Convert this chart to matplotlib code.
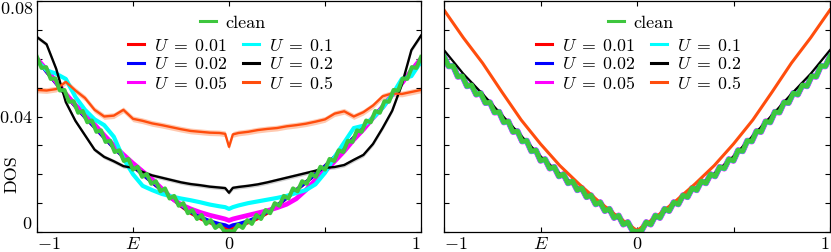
import numpy as np
import matplotlib; matplotlib.use("Agg")
import matplotlib.pyplot as plt
from matplotlib.lines import Line2D

plt.rcParams["font.family"] = "serif"
plt.rcParams["font.serif"] = ["cmr10", "DejaVu Serif"]
plt.rcParams["mathtext.fontset"] = "cm"
plt.rcParams["axes.unicode_minus"] = False

RED = "#ff0000"; BLUE = "#0000ff"; MAG = "#ff00ff"; CYAN = "#00ffff"
BLACK = "#000000"; ORANGE = "#ff4d0d"; GREEN = "#3ec63e"

# ---- data ----
U_LABELS = [r"$U\;=\;0.01$", r"$U\;=\;0.02$", r"$U\;=\;0.05$",
            r"$U\;=\;0.1$", r"$U\;=\;0.2$", r"$U\;=\;0.5$"]

# energy grid for the disordered curves (left panel)
E_L = np.round(np.r_[np.linspace(-1, -0.05, 20), -0.02, 0.0, 0.02, np.linspace(0.05, 1, 20)], 3)

red_L = [0.0598, 0.0555, 0.0515, 0.0475, 0.0435, 0.0398, 0.0363, 0.0327, 0.0292, 0.0260,
         0.0228, 0.0200, 0.0172, 0.0145, 0.0118, 0.0090, 0.0066, 0.0047, 0.0033, 0.0020,
         0.0013, 0.0008, 0.0013,
         0.0020, 0.0033, 0.0047, 0.0066, 0.0090, 0.0118, 0.0145, 0.0172, 0.0200, 0.0228,
         0.0260, 0.0292, 0.0327, 0.0363, 0.0398, 0.0435, 0.0475, 0.0515, 0.0555, 0.0598]
blue_L = [0.0598, 0.0555, 0.0515, 0.0475, 0.0435, 0.0398, 0.0363, 0.0327, 0.0292, 0.0260,
          0.0228, 0.0200, 0.0172, 0.0145, 0.0118, 0.0092, 0.0070, 0.0052, 0.0038, 0.0028,
          0.0024, 0.0018, 0.0024,
          0.0028, 0.0038, 0.0052, 0.0070, 0.0092, 0.0118, 0.0145, 0.0172, 0.0200, 0.0228,
          0.0260, 0.0292, 0.0327, 0.0363, 0.0398, 0.0435, 0.0475, 0.0515, 0.0555, 0.0598]
mag_L = [0.0600, 0.0562, 0.0520, 0.0478, 0.0440, 0.0405, 0.0372, 0.0335, 0.0300, 0.0268,
         0.0238, 0.0210, 0.0182, 0.0150, 0.0118, 0.0095, 0.0080, 0.0068, 0.0058, 0.0050,
         0.0045, 0.0040, 0.0045,
         0.0050, 0.0058, 0.0066, 0.0074, 0.0084, 0.0096, 0.0115, 0.0145, 0.0180, 0.0210,
         0.0245, 0.0280, 0.0320, 0.0355, 0.0395, 0.0432, 0.0475, 0.0515, 0.0560, 0.0600]
cyan_L = [0.0592, 0.0560, 0.0548, 0.0530, 0.0468, 0.0423, 0.0390, 0.0370, 0.0330, 0.0255,
          0.0200, 0.0160, 0.0145, 0.0132, 0.0123, 0.0116, 0.0110, 0.0103, 0.0095, 0.0089,
          0.0086, 0.0080, 0.0086,
          0.0092, 0.0100, 0.0106, 0.0112, 0.0118, 0.0125, 0.0135, 0.0145, 0.0165, 0.0205,
          0.0260, 0.0310, 0.0360, 0.0368, 0.0395, 0.0430, 0.0475, 0.0530, 0.0540, 0.0590]
black_L = [0.0675, 0.0650, 0.0565, 0.0450, 0.0385, 0.0335, 0.0285, 0.0260, 0.0245, 0.0228,
           0.0222, 0.0208, 0.0196, 0.0188, 0.0180, 0.0172, 0.0166, 0.0162, 0.0157, 0.0154,
           0.0152, 0.0136, 0.0153,
           0.0156, 0.0160, 0.0165, 0.0172, 0.0180, 0.0188, 0.0196, 0.0204, 0.0212, 0.0222,
           0.0225, 0.0232, 0.0250, 0.0267, 0.0305, 0.0360, 0.0420, 0.0510, 0.0630, 0.0680]
orange_L = [0.0492, 0.0490, 0.0495, 0.0520, 0.0490, 0.0464, 0.0423, 0.0400, 0.0403, 0.0423,
            0.0392, 0.0385, 0.0376, 0.0370, 0.0363, 0.0356, 0.0350, 0.0347, 0.0344, 0.0343,
            0.0340, 0.0295, 0.0338,
            0.0343, 0.0347, 0.0353, 0.0357, 0.0360, 0.0366, 0.0370, 0.0375, 0.0382, 0.0390,
            0.0410, 0.0418, 0.0400, 0.0415, 0.0438, 0.0470, 0.0480, 0.0478, 0.0485, 0.0492]
black_L_err = 0.0007
orange_L_err = 0.0010

# clean DOS, sampled at its wiggle extrema (85 points from -1 to 1)
E_C = np.linspace(-1, 1, 85)
clean_L = [0.0606, 0.0568, 0.0571, 0.0530, 0.0532, 0.0490, 0.0492, 0.0451, 0.0453, 0.0413,
           0.0419, 0.0380, 0.0386, 0.0347, 0.0352, 0.0312, 0.0316, 0.0277, 0.0283, 0.0246,
           0.0253, 0.0216, 0.0226, 0.0191, 0.0201, 0.0167, 0.0176, 0.0141, 0.0151, 0.0116,
           0.0125, 0.0091, 0.0100, 0.0065, 0.0076, 0.0045, 0.0059, 0.0028, 0.0041, 0.0014,
           0.0025, 0.0002, 0.0003,
           0.0002, 0.0025, 0.0014, 0.0041, 0.0028, 0.0059, 0.0045, 0.0076, 0.0065, 0.0100,
           0.0091, 0.0125, 0.0116, 0.0151, 0.0141, 0.0176, 0.0167, 0.0201, 0.0191, 0.0226,
           0.0216, 0.0253, 0.0246, 0.0283, 0.0277, 0.0316, 0.0312, 0.0352, 0.0347, 0.0386,
           0.0380, 0.0419, 0.0413, 0.0453, 0.0451, 0.0492, 0.0490, 0.0532, 0.0530, 0.0571,
           0.0568, 0.0606]
clean_R = [0.0608, 0.0574, 0.0575, 0.0538, 0.0540, 0.0505, 0.0509, 0.0476, 0.0481, 0.0447,
           0.0449, 0.0414, 0.0416, 0.0380, 0.0383, 0.0347, 0.0349, 0.0314, 0.0316, 0.0280,
           0.0283, 0.0247, 0.0252, 0.0220, 0.0225, 0.0193, 0.0200, 0.0169, 0.0176, 0.0145,
           0.0152, 0.0121, 0.0127, 0.0096, 0.0103, 0.0073, 0.0080, 0.0049, 0.0057, 0.0026,
           0.0034, 0.0005, 0.0001,
           0.0005, 0.0034, 0.0026, 0.0057, 0.0049, 0.0080, 0.0073, 0.0103, 0.0096, 0.0127,
           0.0121, 0.0152, 0.0145, 0.0176, 0.0169, 0.0200, 0.0193, 0.0225, 0.0220, 0.0252,
           0.0247, 0.0283, 0.0280, 0.0316, 0.0314, 0.0349, 0.0347, 0.0383, 0.0380, 0.0416,
           0.0414, 0.0449, 0.0447, 0.0481, 0.0476, 0.0509, 0.0505, 0.0540, 0.0538, 0.0575,
           0.0574, 0.0608]

# right panel, coarse grid
E_R = np.linspace(-1, 1, 21)
black_R = [0.0630, 0.0548, 0.0478, 0.0405, 0.0333, 0.0262, 0.0202, 0.0150, 0.0099, 0.0049,
           0.0003, 0.0049, 0.0099, 0.0150, 0.0202, 0.0262, 0.0333, 0.0405, 0.0478, 0.0548, 0.0630]
orange_R = [0.0769, 0.0673, 0.0585, 0.0485, 0.0388, 0.0305, 0.0230, 0.0166, 0.0107, 0.0053,
            0.0005, 0.0053, 0.0107, 0.0166, 0.0230, 0.0305, 0.0388, 0.0485, 0.0585, 0.0673, 0.0769]

fig = plt.figure(figsize=(8.31, 2.52), dpi=100)
ax1 = fig.add_axes([37/831, 20/252, 384/831, 231/252])
ax2 = fig.add_axes([444/831, 20/252, 386/831, 231/252])

# ---- left panel ----
ax1.plot(E_L, red_L, color=RED, lw=2.6)
ax1.plot(E_L, blue_L, color=BLUE, lw=2.6)
ax1.plot(E_L, mag_L, color=MAG, lw=3.4)
ax1.plot(E_L, cyan_L, color=CYAN, lw=3.0)
b = np.array(black_L)
ax1.fill_between(E_L, b - black_L_err, b + black_L_err, color="#bdbdbd", lw=0, alpha=0.7)
ax1.plot(E_L, black_L, color=BLACK, lw=1.7)
o = np.array(orange_L)
ax1.fill_between(E_L, o - orange_L_err, o + orange_L_err, color="#ffb38f", lw=0, alpha=0.7)
ax1.plot(E_L, orange_L, color=ORANGE, lw=1.7)
ax1.plot(E_C, clean_L, color=GREEN, lw=2.9)

# ---- right panel ----
for c, w in [(RED, 3.4), (BLUE, 3.6), (MAG, 4.4), (CYAN, 3.8)]:
    ax2.plot(E_C, clean_R, color=c, lw=w)
ax2.plot(E_R, black_R, color=BLACK, lw=1.6)
ax2.plot(E_R, orange_R, color=ORANGE, lw=2.2)
ax2.plot(E_C, clean_R, color=GREEN, lw=3.5)

handles = [Line2D([], [], color=c, lw=2.2) for c in [RED, BLUE, MAG, CYAN, BLACK, ORANGE]]
for ax in (ax1, ax2):
    ax.set_xlim(-1, 1); ax.set_ylim(0, 0.08)
    ax.set_xticks([-1, -0.5, 0, 0.5, 1])
    ax.set_xticklabels(["$-1$", "$E$", "$0$", "", "$1$"], fontsize=13)
    ax.get_xticklabels()[0].set_ha("left"); ax.get_xticklabels()[-1].set_ha("right")
    ax.set_yticks(np.arange(0, 0.0801, 0.01))
    ax.tick_params(direction="in", top=True, right=True, length=3.5, width=0.8, pad=3)
    for s in ax.spines.values(): s.set_linewidth(0.9)
    lg1 = ax.legend([Line2D([], [], color=GREEN, lw=2.2)], ["clean"], loc="center",
                    bbox_to_anchor=(0.51, 0.905), frameon=False, fontsize=13,
                    handlelength=0.9, handletextpad=0.55, borderpad=0)
    ax.add_artist(lg1)
    ax.legend(handles, U_LABELS, loc="center",
              bbox_to_anchor=(0.505, 0.725), ncol=2, frameon=False, fontsize=12.8,
              handlelength=0.9, handletextpad=0.55, columnspacing=0.9, labelspacing=0.14,
              borderpad=0)

ax1.set_yticklabels(["$0$", "", "", "", "$0.04$", "", "", "", "$0.08$"], fontsize=13)
yl = ax1.get_yticklabels(); yl[0].set_va("bottom"); yl[-1].set_va("top")
ax2.set_yticklabels([])
ax1.set_ylabel("DOS", fontsize=13)
ax1.yaxis.set_label_coords(-0.045, 0.25)

fig.savefig("out.png", dpi=100)
